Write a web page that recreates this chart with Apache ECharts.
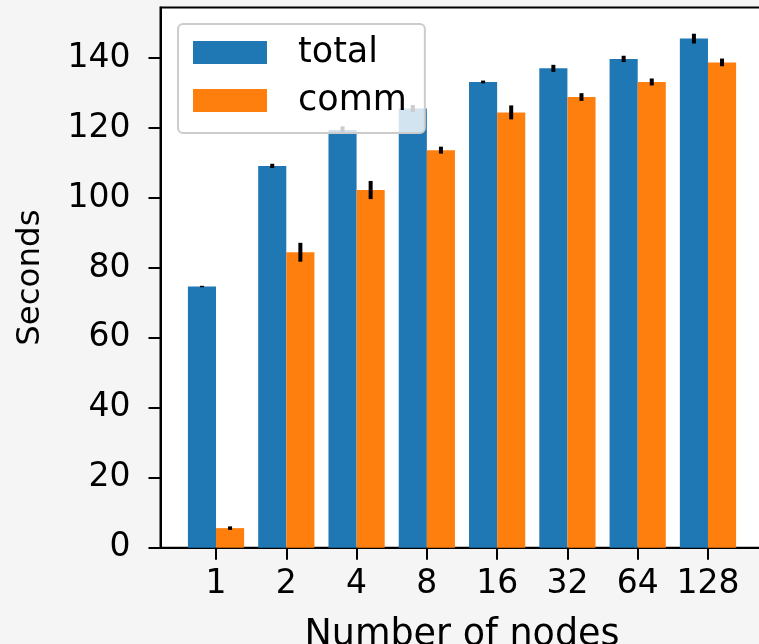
<!DOCTYPE html>
<html>
<head>
<meta charset="utf-8">
<script src="https://cdn.jsdelivr.net/npm/echarts@6/dist/echarts.min.js"></script>
<style>
  html, body { margin: 0; padding: 0; background: #f5f5f5; }
  #chart { width: 759px; height: 644px; }
</style>
</head>
<body>
<div id="chart"></div>
<script>
// Node counts on the x axis
const nodeCounts = ['1', '2', '4', '8', '16', '32', '64', '128'];
// Mean run time (seconds) and spread for each node count
const totalTime = [74.7, 109.2, 119.5, 125.6, 133.2, 137.1, 139.8, 145.6];
const totalErr = [0.2, 0.6, 1.0, 1.0, 0.4, 1.0, 0.9, 1.4];
const commTime = [5.6, 84.5, 102.3, 113.7, 124.5, 128.9, 133.2, 138.8];
const commErr = [0.5, 2.7, 2.6, 1.0, 2.0, 1.1, 1.0, 1.1];
const yTicks = [0, 20, 40, 60, 80, 100, 120, 140];

const BAR_W = 0.4;
const FONT = 'DejaVu Sans';
const FS = 33;

// Bar plus vertical error line, bar offset left (-1) or right (0) of the tick
function makeRender(side, color) {
  return function (params, api) {
    const x = api.value(0);
    const y = api.value(1);
    const e = api.value(2);
    const x0 = x + side * BAR_W;
    const p0 = api.coord([x0, y]);
    const p1 = api.coord([x0 + BAR_W, 0]);
    const c = api.coord([x0 + BAR_W / 2, 0])[0];
    const lo = api.coord([0, y - e])[1];
    const hi = api.coord([0, y + e])[1];
    return {
      type: 'group',
      children: [
        {
          type: 'rect',
          shape: { x: p0[0], y: p0[1], width: p1[0] - p0[0], height: p1[1] - p0[1] },
          style: { fill: color }
        },
        {
          type: 'line',
          shape: { x1: c, y1: lo, x2: c, y2: hi },
          style: { stroke: '#000', lineWidth: 4 }
        }
      ]
    };
  };
}

const chart = echarts.init(document.getElementById('chart'), null, { renderer: 'canvas' });

chart.setOption({
  backgroundColor: '#f5f5f5',
  animation: false,
  textStyle: { fontFamily: FONT },
  grid: {
    left: 160.5, top: 7.5, width: 603, height: 540.2,
    outerBoundsMode: 'none', containLabel: false,
    show: true, backgroundColor: '#ffffff', borderColor: '#000', borderWidth: 2
  },
  legend: {
    left: 178, top: 24, orient: 'vertical',
    padding: [11, 18, 15, 15],
    itemWidth: 74, itemHeight: 23, itemGap: 13,
    backgroundColor: 'rgba(255,255,255,0.8)',
    borderColor: '#cccccc', borderWidth: 2, borderRadius: 5,
    textStyle: { fontFamily: FONT, fontSize: 35, color: '#000', lineHeight: 23, padding: [0, 0, 0, 26] },
    data: [{ name: 'total', icon: 'rect' }, { name: 'comm', icon: 'rect' }]
  },
  xAxis: {
    type: 'value', min: -0.79, max: 7.79,
    name: 'Number of nodes', nameLocation: 'middle', nameGap: 69,
    nameTextStyle: { fontFamily: FONT, fontSize: 36.5, color: '#000' },
    axisLine: { show: true, onZero: false, lineStyle: { color: '#000', width: 2 } },
    axisTick: { show: true, length: 12, lineStyle: { color: '#000', width: 2 }, customValues: nodeCounts.map((_, i) => i) },
    axisLabel: {
      fontFamily: FONT, fontSize: FS, color: '#000', margin: 20,
      customValues: nodeCounts.map((_, i) => i),
      formatter: v => nodeCounts[Math.round(v)]
    },
    splitLine: { show: false }
  },
  yAxis: {
    type: 'value', min: 0, max: 154.5,
    name: 'Seconds', nameLocation: 'middle', nameGap: 113,
    nameTextStyle: { fontFamily: FONT, fontSize: 32.5, color: '#000' },
    axisLine: { show: true, onZero: false, lineStyle: { color: '#000', width: 2 } },
    axisTick: { show: true, length: 12, lineStyle: { color: '#000', width: 2 }, customValues: yTicks },
    axisLabel: { fontFamily: FONT, fontSize: FS, color: '#000', margin: 30, customValues: yTicks },
    splitLine: { show: false }
  },
  series: [
    {
      name: 'total', type: 'custom',
      itemStyle: { color: '#1f77b4' },
      renderItem: makeRender(-1, '#1f77b4'),
      encode: { x: 0, y: 1 },
      data: totalTime.map((v, i) => [i, v, totalErr[i]])
    },
    {
      name: 'comm', type: 'custom',
      itemStyle: { color: '#ff7f0e' },
      renderItem: makeRender(0, '#ff7f0e'),
      encode: { x: 0, y: 1 },
      data: commTime.map((v, i) => [i, v, commErr[i]])
    }
  ]
});
</script>
</body>
</html>
